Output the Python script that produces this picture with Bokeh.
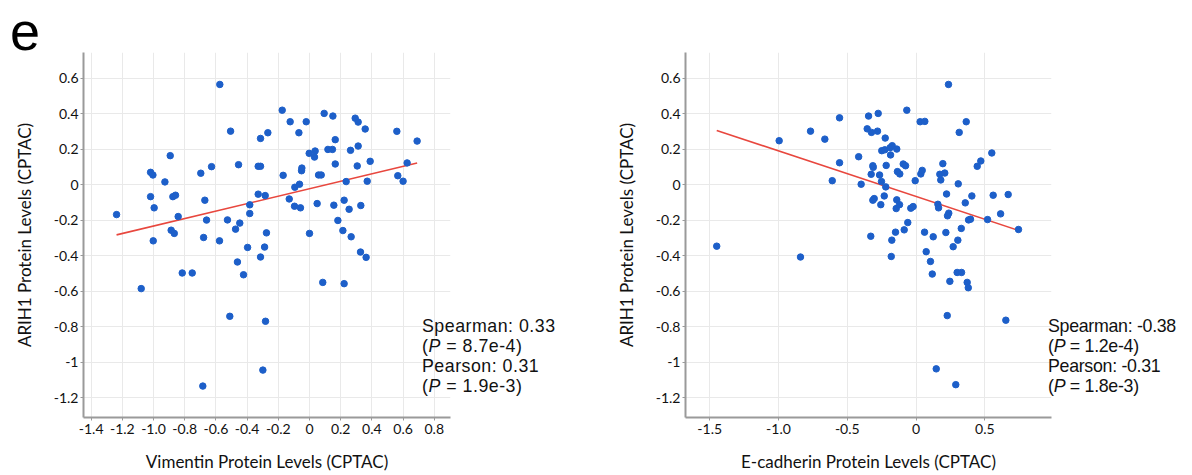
from bokeh.plotting import figure
from bokeh.layouts import row
from bokeh.models import FixedTicker, Range1d, Div
from bokeh.embed import file_html
from bokeh.resources import INLINE
import numpy as np

# ---------------- data ----------------
vim_x = [-1.237, -0.575, -1.019, -1.004, -0.893, -0.927, -1.019, -0.996, -0.876, -0.859,
         -0.842, -0.697, -0.628, -0.671, -0.660, -0.506, -0.455, -0.526, -0.447, -0.474,
         -0.383, -0.383, -0.329, -0.314, -0.314, -0.267, -0.329, -0.284, -0.276, -0.175,
         -0.124, -0.021, -0.068, -0.169, -0.130, -0.096, -0.058, -0.094, -0.064, -0.051,
         -0.049, -0.002, 0.036, 0.032, 0.058, 0.075, 0.049, 0.000, 0.094, 0.150,
         0.165, 0.118, 0.147, 0.165, 0.156, 0.182, 0.214, 0.267, 0.222, 0.254,
         0.235, 0.263, 0.293, 0.312, 0.312, 0.306, 0.329, 0.357, 0.389, 0.370,
         0.560, 0.566, 0.600, 0.626, 0.690,
         -0.887, -0.867, -0.679, -1.002, -0.577, -0.397, -0.288, -0.314, -0.462, -0.423,
         -0.816, -0.752, -1.079, -0.511, -0.282, -0.299, -0.684, 0.327, 0.363, 0.085, 0.222]
vim_y = [-0.167, 0.566, 0.071, 0.056, 0.165, 0.017, -0.066, -0.129, -0.066, -0.058,
         -0.178, 0.066, 0.103, -0.086, -0.198, 0.303, 0.114, -0.197, -0.215, -0.249,
         -0.112, -0.161, 0.105, 0.105, 0.262, 0.294, -0.052, -0.060, -0.270, 0.421,
         0.356, 0.356, 0.294, 0.054, -0.079, -0.120, -0.129, -0.013, 0.004, 0.080,
         0.095, 0.178, 0.191, 0.157, 0.056, 0.056, -0.105, -0.273, 0.403, 0.388,
         0.255, 0.200, 0.200, 0.118, -0.114, -0.200, -0.257, -0.292, -0.086, -0.137,
         0.019, 0.195, 0.376, 0.354, 0.219, 0.107, -0.116, 0.315, 0.133, 0.021,
         0.302, 0.052, 0.021, 0.124, 0.247,
         -0.255, -0.273, -0.296, -0.315, -0.315, -0.352, -0.350, -0.406, -0.434, -0.506,
         -0.496, -0.496, -0.584, -0.740, -0.768, -1.043, -1.133, -0.378, -0.408, -0.549, -0.556]

ecad_x = [-0.995, -0.767, -0.663, -0.556, -0.556, -0.609, -0.417, -0.399, -0.345, -0.275,
          -0.355, -0.324, -0.280, -0.224, -0.249, -0.227, -0.188, -0.173, -0.140, -0.185,
          -0.067, -0.311, -0.314, -0.326, -0.265, -0.217, -0.251, -0.220, -0.135, -0.118,
          -0.093, -0.076, -0.304, -0.314, -0.231, -0.256, -0.140, -0.144, -0.120, -0.038,
          -0.021, -0.060, -0.086, -0.149, -0.006, 0.030, 0.064, 0.035, 0.045, 0.062,
          0.125, 0.159, 0.164, 0.180, 0.173, 0.209, 0.195, 0.236, 0.314, 0.365,
          0.222, 0.307, 0.238, 0.229, 0.217, 0.329, 0.358, 0.406, 0.382, 0.396,
          0.445, 0.471, 0.551, 0.561, 0.520, 0.615, 0.670, 0.745,
          -1.449, -0.840, -0.329, -0.176, -0.180, 0.074, 0.105, 0.118, 0.270, 0.304,
          0.246, 0.299, 0.331, 0.372, 0.380, 0.227, 0.653, 0.147, 0.289]
ecad_y = [0.249, 0.303, 0.258, 0.378, 0.125, 0.024, 0.159, 0.004, 0.388, 0.403,
          0.316, 0.296, 0.303, 0.264, 0.193, 0.198, 0.210, 0.221, 0.202, 0.169,
          0.421, 0.099, 0.108, 0.060, 0.056, 0.110, 0.019, -0.011, 0.075, 0.062,
          0.118, 0.108, -0.077, -0.086, -0.062, -0.111, -0.084, -0.133, -0.111, -0.131,
          -0.122, -0.212, -0.253, -0.266, 0.024, 0.356, 0.358, 0.062, 0.082, -0.266,
          -0.292, -0.109, -0.129, 0.028, 0.060, 0.067, 0.120, 0.566, 0.296, 0.356,
          -0.051, 0.006, -0.159, -0.174, -0.268, -0.245, -0.101, -0.062, -0.197, -0.193,
          0.105, 0.135, 0.180, -0.058, -0.195, -0.163, -0.054, -0.251,
          -0.345, -0.406, -0.289, -0.311, -0.403, -0.376, -0.431, -0.502, -0.348, -0.311,
          -0.543, -0.493, -0.493, -0.549, -0.579, -0.736, -0.762, -1.036, -1.125]

y_ticks = [-1.2, -1.0, -0.8, -0.6, -0.4, -0.2, 0.0, 0.2, 0.4, 0.6]
y_tick_labels = ["-1.2", "-1", "-0.8", "-0.6", "-0.4", "-0.2", "0", "0.2", "0.4", "0.6"]
vim_ticks = [-1.4, -1.2, -1.0, -0.8, -0.6, -0.4, -0.2, 0.0, 0.2, 0.4, 0.6, 0.8]
vim_tick_labels = ["-1.4", "-1.2", "-1.0", "-0.8", "-0.6", "-0.4", "-0.2", "0", "0.2", "0.4", "0.6", "0.8"]
ecad_ticks = [-1.5, -1.0, -0.5, 0.0, 0.5]
ecad_tick_labels = ["-1.5", "-1.0", "-0.5", "0", "0.5"]

vim_stats = ["Spearman: 0.33", "8.7e-4", "Pearson: 0.31", "1.9e-3"]
ecad_stats = ["Spearman: -0.38", "1.2e-4", "Pearson: -0.31", "1.8e-3"]

FONT = "Lato"
DOT = "#1d5fc9"
LINE = "#e8473e"
Y_RANGE = (-1.31, 0.746)


def make_plot(xs, ys, xr, ticks, tick_labels, xlabel, width, border_left, border_right):
    p = figure(width=width, height=474, output_backend="svg", toolbar_location=None,
               x_range=Range1d(*xr), y_range=Range1d(*Y_RANGE),
               min_border_left=border_left, min_border_right=border_right,
               min_border_top=52, min_border_bottom=55)
    p.outline_line_color = None
    p.background_fill_color = "white"
    p.border_fill_color = None
    p.xgrid.ticker = FixedTicker(ticks=ticks)
    p.ygrid.ticker = FixedTicker(ticks=y_ticks)
    for g in (p.xgrid[0], p.ygrid[0]):
        g.grid_line_color = "#e9e9e9"
        g.grid_line_width = 1

    for ax, tks, lbls in ((p.xaxis[0], ticks, tick_labels), (p.yaxis[0], y_ticks, y_tick_labels)):
        ax.ticker = FixedTicker(ticks=tks)
        ax.major_label_overrides = {t: l for t, l in zip(tks, lbls)}
        ax.axis_line_color = "#9a9a9a"
        ax.axis_line_width = 2
        ax.major_tick_line_color = "#9a9a9a"
        ax.major_tick_out = 3
        ax.major_tick_in = 0
        ax.minor_tick_line_color = None
        ax.major_label_text_font = FONT
        ax.major_label_text_font_size = "14px"
        ax.major_label_text_color = "#111111"
        ax.axis_label_text_font = FONT
        ax.axis_label_text_font_size = "17px"
        ax.axis_label_text_font_style = "normal"
        ax.axis_label_text_color = "#111111"
    p.xaxis.major_label_standoff = 3
    p.xaxis.axis_label_standoff = 14
    p.yaxis.major_label_standoff = 2
    p.yaxis.axis_label_standoff = 16
    p.xaxis.axis_label = xlabel
    p.yaxis.axis_label = "ARIH1 Protein Levels (CPTAC)"

    # regression line fitted from the data
    xa, ya = np.array(xs), np.array(ys)
    k, b = np.polyfit(xa, ya, 1)
    lx = np.array([xa.min(), xa.max()])
    p.line(lx, k * lx + b, line_color=LINE, line_width=1.6)
    p.scatter(xs, ys, size=6.5, fill_color=DOT, line_color=DOT)
    return p


# left panel: data frame spans 83..450 px
p1 = make_plot(vim_x, vim_y, (-1.449, 0.904), vim_ticks, vim_tick_labels,
               "Vimentin Protein Levels (CPTAC)", 590, 83, 140)
# right panel: data frame spans 685..1051 px
p2 = make_plot(ecad_x, ecad_y, (-1.676, 0.985), ecad_ticks, ecad_tick_labels,
               "E-cadherin Protein Levels (CPTAC)", 602, 95, 141)


def stats_block(stats, left, top, spacing):
    lines = [stats[0], "(<i>P</i> = " + stats[1] + ")", stats[2], "(<i>P</i> = " + stats[3] + ")"]
    body = "".join(f'<div style="height:20px;">{ln}</div>' for ln in lines)
    return (f'<div style="position:absolute; left:{left}px; top:{top}px; '
            f'font-family:\'Liberation Sans\'; font-size:17.8px; line-height:20px; '
            f'letter-spacing:{spacing}; color:#111111; white-space:nowrap;">{body}</div>')


overlay_html = (
    '<div style="position:relative; width:1192px; height:474px; pointer-events:none;">'
    '<div style="position:absolute; left:10px; top:4px; font-family:\'Liberation Sans\'; '
    'font-size:54px; line-height:54px; color:black;">e</div>'
    + stats_block(vim_stats, 422, 316, "0.5px")
    + stats_block(ecad_stats, 1048, 316, "-0.3px")
    + '</div>'
)

overlay = Div(text=overlay_html, width=1192, height=474, margin=(0, -1192, 0, 0),
              styles={"overflow": "visible", "position": "relative", "z-index": "5"})

layout = row(overlay, p1, p2)
open("out.html", "w").write(file_html(layout, INLINE))
